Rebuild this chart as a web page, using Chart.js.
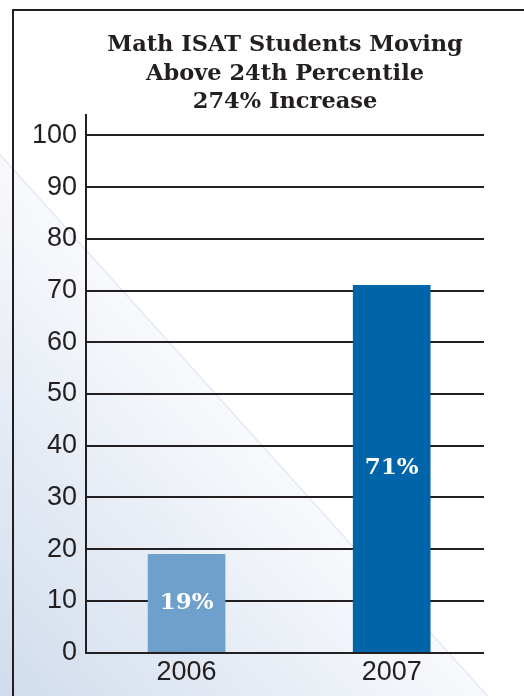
<!DOCTYPE html>
<html>
<head>
<meta charset="utf-8">
<script src="https://cdn.jsdelivr.net/npm/chart.js@4"></script>
<style>
  html, body { margin: 0; padding: 0; }
  body {
    width: 524px; height: 696px; overflow: hidden; position: relative;
    background: linear-gradient(228deg, #ffffff 0%, #ffffff 57.5%, #dfe6f1 57.6%, #f8f9fc 57.8%, #d0dcec 100%);
  }
  #frame {
    position: absolute; left: 12px; top: 9px; width: 600px; height: 800px;
    border: 2px solid #231f20; box-sizing: border-box;
  }
  #wrap { position: absolute; left: 0; top: 0; width: 524px; height: 696px; }
</style>
</head>
<body>
<div id="frame"></div>
<div id="wrap"><canvas id="myChart" width="524" height="696"></canvas></div>
<script>
// chart data
const titleLines = ['Math ISAT Students Moving', 'Above 24th Percentile', '274% Increase'];
const years = [2006, 2007];
const values = [19, 71];
const valueLabels = ['19%', '71%'];
const barColors = ['#6fa0cc', '#0064a8'];
const yTicks = [0, 10, 20, 30, 40, 50, 60, 70, 80, 90, 100];

const ink = '#231f20';

// white % labels in the middle of each bar
const barLabels = {
    id: 'barLabels',
    afterDatasetsDraw(chart) {
        const ctx = chart.ctx;
        const meta = chart.getDatasetMeta(0);
        ctx.save();
        ctx.fillStyle = '#ffffff';
        ctx.font = 'bold 23px "DejaVu Serif"';
        ctx.textAlign = 'center';
        ctx.textBaseline = 'middle';
        meta.data.forEach((bar, i) => {
            ctx.fillText(valueLabels[i], bar.x, (bar.y + bar.base) / 2);
        });
        ctx.restore();
    }
};

new Chart(document.getElementById('myChart').getContext('2d'), {
    type: 'bar',
    data: {
        datasets: [{
            data: years.map((y, i) => ({ x: y, y: values[i] })),
            backgroundColor: barColors,
            borderWidth: 0,
            barThickness: 77
        }]
    },
    options: {
        responsive: false,
        animation: false,
        layout: { padding: { left: 23, right: 40, top: 31, bottom: 11 } },
        plugins: {
            legend: { display: false },
            tooltip: { enabled: false },
            title: {
                display: true,
                fullSize: false,
                text: titleLines,
                color: ink,
                font: { family: '"DejaVu Serif"', size: 22.5, weight: 'bold', lineHeight: 1.27 },
                padding: { top: 0, bottom: -2 }
            }
        },
        scales: {
            x: {
                type: 'linear',
                offset: false,
                min: 2005.51,
                max: 2007.45,
                afterBuildTicks: (axis) => { axis.ticks = years.map(v => ({ value: v })); },
                grid: { display: false, offset: false },
                border: { display: false },
                ticks: {
                    color: ink,
                    font: { family: '"Liberation Sans"', size: 27 },
                    padding: -4,
                    maxRotation: 0,
                    callback: (v) => String(v)
                }
            },
            y: {
                min: 0,
                max: 104,
                afterBuildTicks: (axis) => { axis.ticks = yTicks.map(v => ({ value: v })); },
                grid: { color: ink, lineWidth: 2, drawTicks: false },
                border: { display: true, color: ink, width: 2 },
                ticks: {
                    color: ink,
                    font: { family: '"Liberation Sans"', size: 27 },
                    padding: 9
                }
            }
        }
    },
    plugins: [barLabels]
});
</script>
</body>
</html>
